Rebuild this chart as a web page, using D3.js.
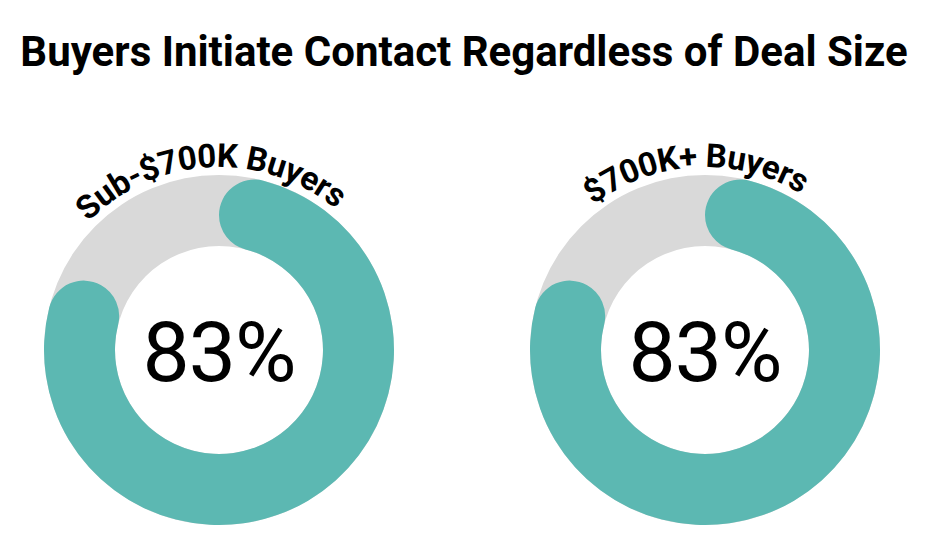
<!DOCTYPE html>
<meta charset="utf-8">
<style>
body { margin: 0; background: #fff; }
svg { display: block; font-family: Roboto, sans-serif; }
.title { font-size: 42px; font-weight: 700; }
.ring-label { font-size: 33px; font-weight: 700; letter-spacing: -0.4px; }
.pct { font-size: 84px; font-weight: 400; letter-spacing: -1px; }
</style>
<body>
<script src="https://cdn.jsdelivr.net/npm/d3@7"></script>
<script>

var titleText = "Buyers Initiate Contact Regardless of Deal Size";
var groups = ["Sub-$700K Buyers", "$700K+ Buyers"];
var shares = [83, 83];

var width = 942, height = 552;
var outerR = 175, innerR = 104, labelR = 183;
var cy = 350;

var svg = d3.select("body").append("svg")
    .attr("width", width)
    .attr("height", height);

svg.append("text")
    .attr("class", "title")
    .attr("x", 464)
    .attr("y", 66)
    .attr("text-anchor", "middle")
    .text(titleText);

var x = d3.scalePoint().domain(groups).range([219, 705]);
var angle = d3.scaleLinear().domain([0, 100]).range([0, 2 * Math.PI]);

var arc = d3.arc()
    .innerRadius(innerR)
    .outerRadius(outerR)
    .cornerRadius((outerR - innerR) / 2);

var data = groups.map(function(g, i) { return {name: g, value: shares[i], id: i}; });

var donut = svg.selectAll(".donut")
    .data(data)
    .enter().append("g")
    .attr("class", "donut")
    .attr("transform", function(d) { return "translate(" + x(d.name) + "," + cy + ")"; });

// grey track
donut.append("path")
    .attr("d", d3.arc().innerRadius(innerR).outerRadius(outerR).startAngle(0).endAngle(2 * Math.PI))
    .style("fill", "#d9d9d9");

// share
donut.append("path")
    .attr("d", function(d) { return arc({startAngle: 0, endAngle: angle(d.value)}); })
    .style("fill", "#5cb8b2");

donut.append("text")
    .attr("class", "pct")
    .attr("text-anchor", "middle")
    .attr("y", 31)
    .text(function(d) { return d.value + "%"; });

// curved labels on top
donut.append("path")
    .attr("id", function(d) { return "lab" + d.id; })
    .attr("d", "M" + (-labelR) + ",0 A" + labelR + "," + labelR + " 0 0 1 " + labelR + ",0")
    .attr("transform", "rotate(-1.5)")
    .style("fill", "none");

donut.append("text")
    .attr("class", "ring-label")
    .attr("transform", "rotate(-1.5)")
    .append("textPath")
    .attr("href", function(d) { return "#lab" + d.id; })
    .attr("startOffset", "50%")
    .attr("text-anchor", "middle")
    .text(function(d) { return d.name; });

</script>
</body>
